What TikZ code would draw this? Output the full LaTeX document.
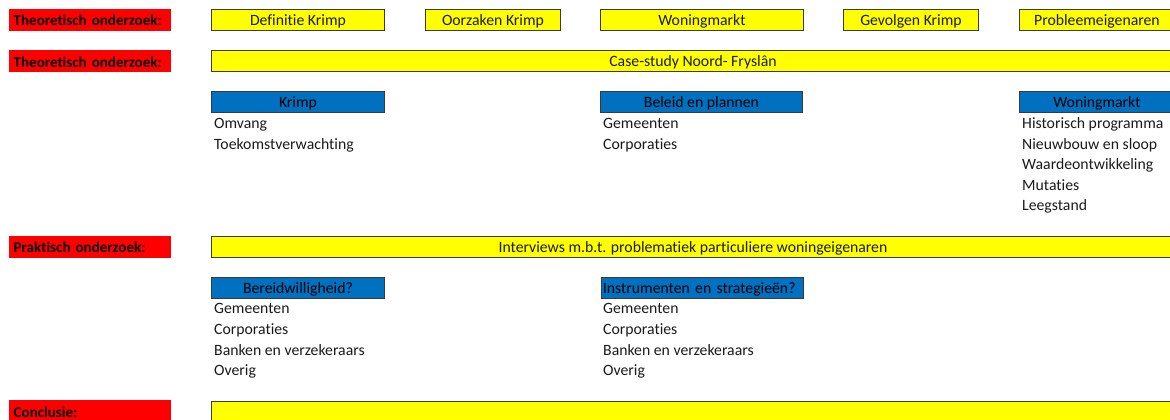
\documentclass[tikz,border=0pt]{standalone}
\usepackage{fontspec}
\setmainfont{Carlito}[Ligatures=NoCommon]
\definecolor{xlred}{HTML}{FF0000}
\definecolor{xlyellow}{HTML}{FFFF00}
\definecolor{xlblue}{HTML}{0070C0}
\definecolor{xlframe}{HTML}{3A3A3A}
\definecolor{xltext}{HTML}{1A1A1A}
\newcommand\cellfont{\fontsize{15.8}{20}\selectfont}
\newcommand\phasefont{\fontsize{15.1}{20}\selectfont\bfseries}
\begin{document}
\begin{tikzpicture}[x=1bp,y=-1bp,
  every node/.append style={font=\cellfont, text=xltext},
  cell/.style={anchor=north west, text height=12.3bp, text depth=0.5bp},
  phase/.style={cell, fill=xlred, minimum height=22bp,
    text width=153bp, inner xsep=4.5bp, inner ysep=0pt, align=left,
    font=\phasefont, text=black},
  topic/.style={cell, fill=xlyellow, draw=xlframe, line width=0.9bp,
    minimum height=21bp, inner sep=0pt},
  head/.style={cell, fill=xlblue, draw=xlframe, line width=0.9bp,
    minimum height=21bp, inner sep=0pt, text=black},
  item/.style={anchor=base west, inner sep=0pt}
]
\useasboundingbox (0,0) rectangle (1170,419);
\clip (0,0) rectangle (1170,419);

% phase labels
\node[phase] (th1) at (9,8.5) {Theoretisch onderzoek:};
\node[phase] (th2) at (9,50) {Theoretisch onderzoek:};
\node[phase] (pr)  at (9,235.5) {Praktisch onderzoek:};
\node[phase] (co)  at (9,400) {Conclusie:};

% literature topics
\node[topic, minimum width=173bp] (def) at (211,9) {Definitie Krimp};
\node[topic, minimum width=135bp] (oor) at (425,9) {Oorzaken Krimp};
\node[topic, minimum width=203bp] (won) at (600,9) {Woningmarkt};
\node[topic, minimum width=135bp] (gev) at (843,9) {Gevolgen Krimp};
\node[topic, minimum width=155bp] (pro) at (1019,9) {Probleemeigenaren};

% case study
\node[topic, minimum width=963bp] (case) at (211,50) {Case-study Noord- Fryslân};

\node[head, minimum width=173bp] (hkr) at (211,91) {Krimp};
\node[head, minimum width=202bp] (hbe) at (600,91) {Beleid en plannen};
\node[head, minimum width=155bp] (hwo) at (1019,91) {Woningmarkt};

\node[item] (kr1) at (214,128.5) {Omvang};
\node[item] (kr2) at (214,149.1) {Toekomstverwachting};

\node[item] (be1) at (603,128.5) {Gemeenten};
\node[item] (be2) at (603,149.1) {Corporaties};

\node[item] (wo1) at (1022,128.5) {Historisch programma};
\node[item] (wo2) at (1022,149.1) {Nieuwbouw en sloop};
\node[item] (wo3) at (1022,169.7) {Waardeontwikkeling};
\node[item] (wo4) at (1022,190.3) {Mutaties};
\node[item] (wo5) at (1022,210.9) {Leegstand};

% interviews
\node[topic, minimum width=963bp] (int) at (211,236) {Interviews m.b.t. problematiek particuliere woningeigenaren};

\node[head, minimum width=173bp] (hbw) at (211,277) {Bereidwilligheid?};
\node[head, text width=198bp, inner xsep=2bp, align=left] (hin) at (600.5,277) {Instrumenten en strategieën?};

\node[item] (bw1) at (214,313.8) {Gemeenten};
\node[item] (bw2) at (214,334.4) {Corporaties};
\node[item] (bw3) at (214,355) {Banken en verzekeraars};
\node[item] (bw4) at (214,375.6) {Overig};

\node[item] (in1) at (603,313.8) {Gemeenten};
\node[item] (in2) at (603,334.4) {Corporaties};
\node[item] (in3) at (603,355) {Banken en verzekeraars};
\node[item] (in4) at (603,375.6) {Overig};

% conclusion
\node[topic, minimum width=963bp] (con) at (211,401) {};
\end{tikzpicture}
\end{document}
